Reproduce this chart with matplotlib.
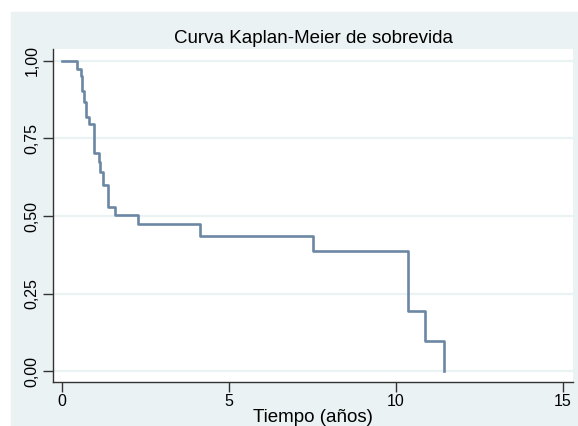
'''Curva Kaplan-Meier de sobrevida (estilo Stata)'''
import matplotlib
matplotlib.use('Agg')
import matplotlib.pyplot as plt
from matplotlib.patches import Rectangle

# tiempos de los escalones (años) y supervivencia estimada
tiempos = [0, 0.46, 0.57, 0.61, 0.66, 0.71, 0.82, 0.97, 1.10, 1.15, 1.22,
           1.38, 1.59, 2.28, 4.12, 7.52, 10.36, 10.86, 11.43]
supervivencia = [1.0, 0.975, 0.952, 0.904, 0.866, 0.818, 0.797, 0.702, 0.673,
                 0.641, 0.600, 0.528, 0.505, 0.474, 0.436, 0.389, 0.194,
                 0.097, 0.0]

ticks_x = [0, 5, 10, 15]
ticks_y = [0, 0.25, 0.5, 0.75, 1.0]
etiquetas_y = ['0,00', '0,25', '0,50', '0,75', '1,00']

fondo = '#EAF2F3'
color_curva = '#6B87A3'

plt.rcParams['font.family'] = ['Liberation Sans', 'DejaVu Sans']

fig = plt.figure(figsize=(5.78, 4.26), dpi=100)
fig.patches.append(Rectangle((11 / 578, 0), 1, 1 - 12 / 426,
                             transform=fig.transFigure, color=fondo, zorder=-10))

ax = fig.add_axes([53 / 578, 1 - 382 / 426, (573 - 53) / 578, (382 - 49) / 426])
ax.set_facecolor('white')

for v in ticks_y:
    ax.axhline(v, color=fondo, linewidth=1.6, zorder=1)

ax.step(tiempos, supervivencia, where='post', color=color_curva,
        linewidth=1.9, zorder=3)

ax.set_xlim(-0.27, 15.3)
ax.set_ylim(-0.034, 1.038)
ax.set_xticks(ticks_x)
ax.set_yticks(ticks_y)
ax.set_yticklabels(etiquetas_y, rotation=90, va='center')

for lado in ['top', 'right']:
    ax.spines[lado].set_visible(False)
for lado in ['left', 'bottom']:
    ax.spines[lado].set_color('#333333')
    ax.spines[lado].set_linewidth(1.0)

ax.tick_params(axis='both', length=7.5, width=1.0, color='#333333',
               labelsize=11.5, pad=2)
ax.tick_params(axis='x', pad=1)

ax.set_xlabel('Tiempo (años)', fontsize=13.5, labelpad=0)
ax.set_title('Curva Kaplan-Meier de sobrevida', fontsize=13.5, pad=4)

fig.savefig('out.png', dpi=100, facecolor='white')
